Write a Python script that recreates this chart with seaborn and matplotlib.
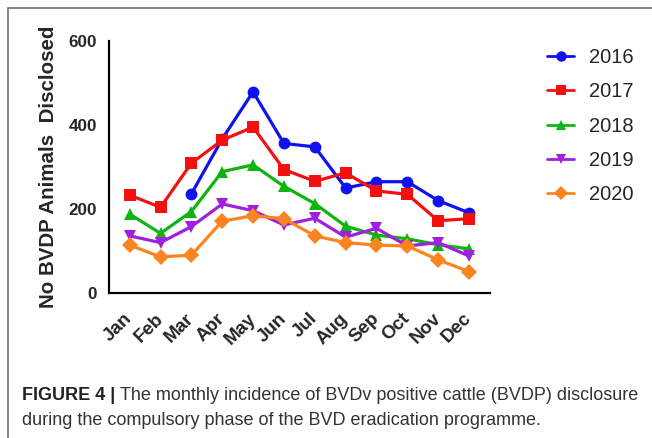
import numpy as np
import pandas as pd
import matplotlib
matplotlib.use('Agg')
import matplotlib.pyplot as plt
import matplotlib.transforms as mtransforms
import seaborn as sns
from matplotlib.lines import Line2D

# Monthly BVDP disclosures
months = ['Jan', 'Feb', 'Mar', 'Apr', 'May', 'Jun', 'Jul', 'Aug', 'Sep', 'Oct', 'Nov', 'Dec']
years = ['2016', '2017', '2018', '2019', '2020']
y2016 = [np.nan, np.nan, 236, 367, 479, 356, 348, 250, 265, 265, 220, 191]
y2017 = [233, 204, 309, 364, 395, 294, 266, 286, 243, 235, 172, 177]
y2018 = [188, 142, 194, 289, 305, 254, 213, 159, 138, 129, 115, 105]
y2019 = [136, 120, 158, 212, 196, 162, 178, 133, 154, 112, 120, 88]
y2020 = [114, 86, 90, 171, 184, 177, 136, 120, 114, 112, 79, 51]

frames = []
for yr, vals in zip(years, [y2016, y2017, y2018, y2019, y2020]):
    frames.append(pd.DataFrame({'month': np.arange(len(months)), 'count': vals, 'year': yr}))
df = pd.concat(frames, ignore_index=True).dropna()

palette = {'2016': '#1010f0', '2017': '#f51010', '2018': '#10b410', '2019': '#a020e0', '2020': '#fa8520'}
markers = {'2016': 'o', '2017': 's', '2018': '^', '2019': 'v', '2020': 'D'}

sns.set_style('white')
plt.rcParams['font.family'] = ['Liberation Sans', 'DejaVu Sans']

fig = plt.figure(figsize=(6.52, 4.38), dpi=100)
ax = fig.add_axes([109 / 652, 1 - 293 / 438, 381 / 652, 252 / 438])

sns.lineplot(data=df, x='month', y='count', hue='year', style='year',
             palette=palette, markers=markers, dashes=False, linewidth=2.3,
             markersize=8.5, markeredgewidth=0, ax=ax, legend=False)

ax.set_xlim(-0.67, 11.68)
ax.set_ylim(0, 600)
ax.set_yticks([0, 200, 400, 600])
ax.set_xticks(range(len(months)))
ax.set_xticklabels(months, rotation=45, ha='right', va='center', rotation_mode='anchor')
shift = mtransforms.ScaledTranslation(7 / 100, 0, fig.dpi_scale_trans)
for lab in ax.get_yticklabels():
    lab.set_fontweight('bold')
    lab.set_fontsize(12.3)
for lab in ax.get_xticklabels():
    lab.set_fontweight('bold')
    lab.set_fontsize(13.5)
    lab.set_transform(lab.get_transform() + shift)
ax.tick_params(axis='both', which='both', direction='out', color='black')
ax.tick_params(axis='y', length=7, width=1.6, pad=1.5)
ax.tick_params(axis='x', length=7.5, width=1.6, pad=9)
ax.set_xlabel('')
ax.set_ylabel('No BVDP Animals  Disclosed', fontsize=14.8, fontweight='bold', labelpad=8)
sns.despine(ax=ax)
for sp in ['left', 'bottom']:
    ax.spines[sp].set_linewidth(1.6)
    ax.spines[sp].set_color('black')

# legend to the right of the plot
handles = [Line2D([], [], color=palette[y], marker=markers[y], linewidth=2,
                  markersize=7.5, markeredgewidth=0) for y in years]
fig.legend(handles, years, loc='upper left', bbox_to_anchor=(547 / 652, 1 - 48 / 438),
           frameon=False, fontsize=14.5, handlelength=1.35, labelspacing=0.76,
           handletextpad=0.75, borderpad=0, borderaxespad=0)

# caption: bold label then regular text
cap_y1 = 1 - 400.5 / 438
cap_y2 = 1 - 425 / 438
lead = fig.text(22 / 652, cap_y1, 'FIGURE 4 |', fontsize=13, fontweight='bold',
                color='#222222', va='baseline')
fig.canvas.draw()
bb = lead.get_window_extent(fig.canvas.get_renderer())
fig.text((bb.x1 + 5) / 652, cap_y1,
         'The monthly incidence of BVDv positive cattle (BVDP) disclosure',
         fontsize=13, color='#333333', va='baseline')
fig.text(22 / 652, cap_y2,
         'during the compulsory phase of the BVD eradication programme.',
         fontsize=13, color='#333333', va='baseline')

# partial frame around the figure panel
fig.add_artist(Line2D([8 / 652, 1], [1 - 8 / 438, 1 - 8 / 438], color='#707070', linewidth=1.2))
fig.add_artist(Line2D([8 / 652, 8 / 652], [0, 1 - 8 / 438], color='#707070', linewidth=1.2))

fig.savefig('out.png', dpi=100)
